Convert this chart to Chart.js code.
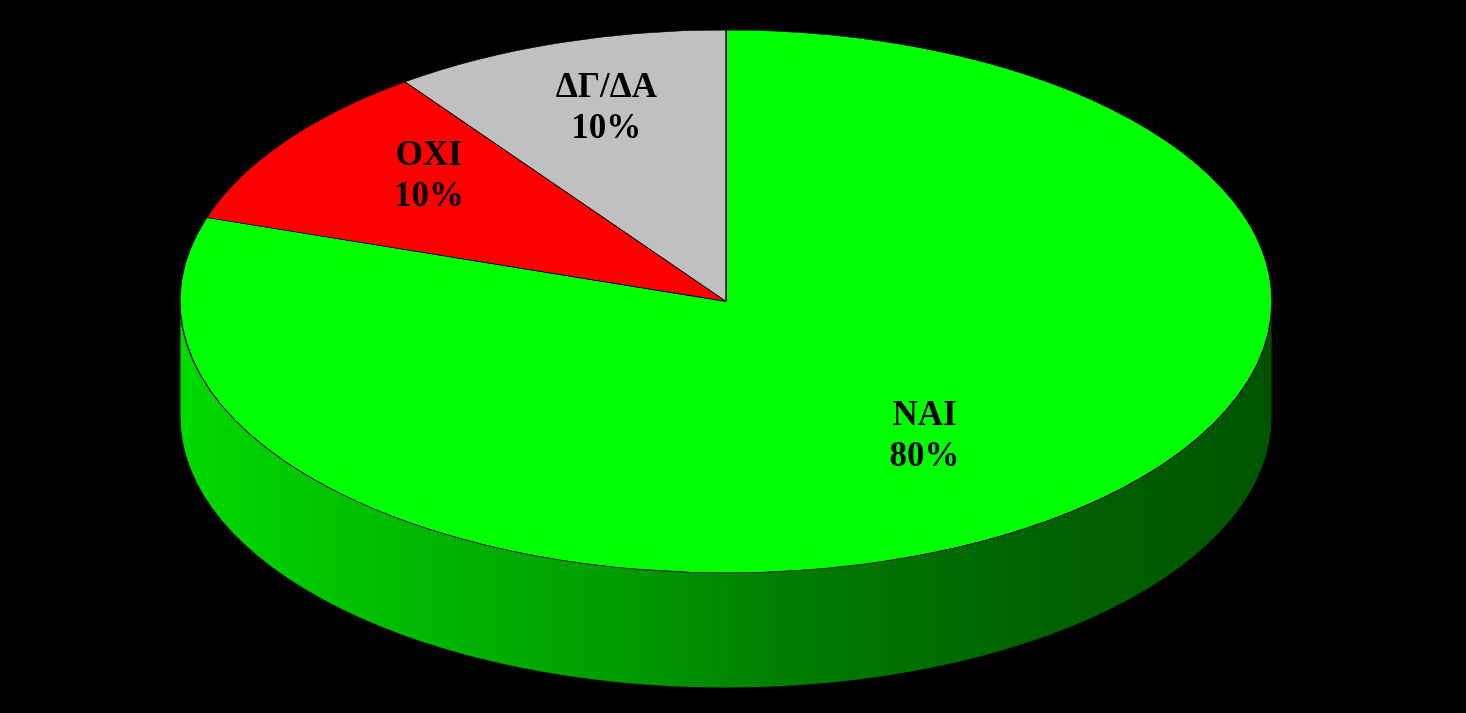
<!DOCTYPE html>
<html>
<head>
<meta charset="utf-8">
<script src="https://cdn.jsdelivr.net/npm/chart.js@4/dist/chart.umd.min.js"></script>
<style>
    html, body { margin: 0; padding: 0; background: #000; }
    #wrap { width: 1466px; height: 713px; position: relative; }
</style>
</head>
<body>
<div id="wrap"><canvas id="pie"></canvas></div>
<script>
// answers and shares (%)
const categories = ['ΝΑΙ', 'ΟΧΙ', 'ΔΓ/ΔΑ'];
const shares = [80, 10, 10];

const sliceColors = ['#00ff00', '#ff0000', '#c0c0c0'];
// side wall shading per slice: light (left) -> dark (right)
const sideShades = [
    ['#00da00', '#00c200', '#009c00', '#007e00', '#006600', '#005400'],
    ['#d80000', '#c20000', '#9c0000', '#7e0000', '#660000', '#540000'],
    ['#a8a8a8', '#989898', '#808080', '#6c6c6c', '#5a5a5a', '#4a4a4a']
];

const TILT = 0.497;        // vertical squash of the top face
const LABEL_RX = 0.65;     // label distance from centre, fraction of radius
const LABEL_RY = 0.687;
const LABEL_DX = -10;
const LABEL_DY = -16;

function geometry(chart) {
    const a = chart.chartArea;
    const rx = (a.right - a.left) / 2;
    const ry = rx * TILT;
    return {
        cx: (a.left + a.right) / 2,
        cy: a.top + ry,
        rx: rx,
        ry: ry,
        depth: (a.bottom - a.top) - 2 * ry
    };
}

const pie3d = {
    id: 'pie3d',
    beforeDatasetsDraw(chart) {
        const ctx = chart.ctx;
        const g = geometry(chart);
        const arcs = chart.getDatasetMeta(0).data;

        // front side wall (only angles 0..PI face the viewer)
        arcs.forEach((arc, i) => {
            const s = Math.max(arc.startAngle, 0);
            const e = Math.min(arc.endAngle, Math.PI);
            if (e <= s) return;
            const grad = ctx.createLinearGradient(g.cx - g.rx, 0, g.cx + g.rx, 0);
            const stops = [0, 0.15, 0.4, 0.55, 0.75, 1];
            stops.forEach((p, k) => grad.addColorStop(p, sideShades[i][k]));
            ctx.save();
            ctx.beginPath();
            ctx.ellipse(g.cx, g.cy, g.rx, g.ry, 0, s, e, false);
            ctx.ellipse(g.cx, g.cy + g.depth, g.rx, g.ry, 0, e, s, true);
            ctx.closePath();
            ctx.fillStyle = grad;
            ctx.fill();
            ctx.lineWidth = 0.8;
            ctx.strokeStyle = '#000';
            ctx.stroke();
            ctx.restore();
        });

        // squash the library's circular pie into the top ellipse
        const arc = arcs[0];
        const R = arc.outerRadius;
        ctx.save();
        ctx.translate(g.cx, g.cy);
        ctx.scale(g.rx / R, g.ry / R);
        ctx.translate(-arc.x, -arc.y);
    },
    afterDatasetsDraw(chart) {
        const ctx = chart.ctx;
        ctx.restore();

        const g = geometry(chart);
        const total = shares.reduce((a, b) => a + b, 0);
        const arcs = chart.getDatasetMeta(0).data;
        ctx.save();
        ctx.fillStyle = '#000';
        ctx.font = 'bold 35px "Liberation Serif", "Times New Roman", serif';
        ctx.textAlign = 'center';
        ctx.textBaseline = 'middle';
        arcs.forEach((arc, i) => {
            const mid = (arc.startAngle + arc.endAngle) / 2;
            const x = g.cx + LABEL_RX * g.rx * Math.cos(mid) + LABEL_DX;
            const y = g.cy + LABEL_RY * g.ry * Math.sin(mid) + LABEL_DY;
            const pct = Math.round(shares[i] / total * 100) + '%';
            ctx.fillText(categories[i], x, y - 20);
            ctx.fillText(pct, x, y + 21);
        });
        ctx.restore();
    }
};

new Chart(document.getElementById('pie'), {
    type: 'pie',
    data: {
        labels: categories,
        datasets: [{
            data: shares,
            backgroundColor: sliceColors,
            borderColor: '#000',
            borderWidth: 0.8
        }]
    },
    options: {
        responsive: true,
        maintainAspectRatio: false,
        animation: false,
        layout: {
            padding: { left: 180, right: 194, top: 30, bottom: 25 }
        },
        plugins: {
            legend: { display: false },
            tooltip: { enabled: false }
        }
    },
    plugins: [pie3d]
});
</script>
</body>
</html>
